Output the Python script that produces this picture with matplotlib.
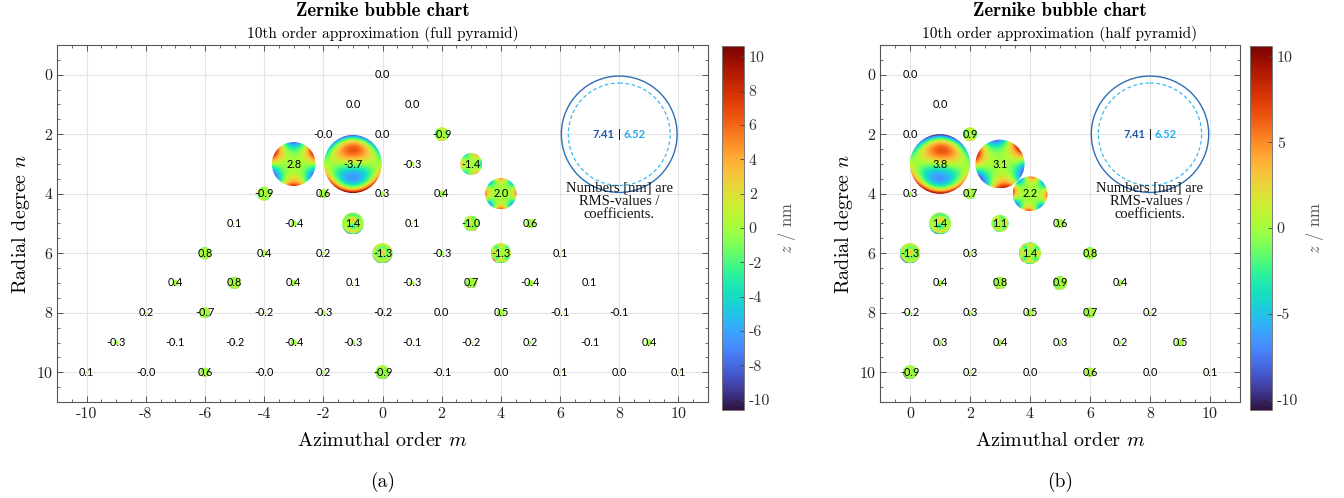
import numpy as np
import matplotlib.pyplot as plt
from matplotlib.patches import Circle
from matplotlib.cm import ScalarMappable
from matplotlib.colors import Normalize
from matplotlib.ticker import MultipleLocator
from math import factorial, sqrt

plt.rcParams['font.family'] = 'cmr10'
plt.rcParams['mathtext.fontset'] = 'cm'
plt.rcParams['axes.unicode_minus'] = False

# full pyramid: one list per radial degree n, for m = -n, -n+2, ..., n  (nm)
full_n0 = [0.0]
full_n1 = [0.0, 0.0]
full_n2 = [-0.0, 0.0, -0.9]
full_n3 = [2.8, -3.7, -0.3, -1.4]
full_n4 = [-0.9, 0.6, 0.3, 0.4, 2.0]
full_n5 = [0.1, -0.4, 1.4, 0.1, -1.0, 0.6]
full_n6 = [0.8, 0.4, 0.2, -1.3, -0.3, -1.3, 0.1]
full_n7 = [0.4, 0.8, 0.4, 0.1, -0.3, 0.7, -0.4, 0.1]
full_n8 = [0.2, -0.7, -0.2, -0.3, -0.2, 0.0, 0.5, -0.1, -0.1]
full_n9 = [-0.3, -0.1, -0.2, -0.4, -0.3, -0.1, -0.2, 0.2, -0.1, 0.4]
full_n10 = [0.1, -0.0, 0.6, -0.0, 0.2, -0.9, -0.1, 0.0, 0.1, 0.0, 0.1]

# half pyramid: one list per n, for m = n%2, ..., n (combined +m/-m amplitude)
half_n0 = [0.0]
half_n1 = [0.0]
half_n2 = [0.0, 0.9]
half_n3 = [3.8, 3.1]
half_n4 = [0.3, 0.7, 2.2]
half_n5 = [1.4, 1.1, 0.6]
half_n6 = [-1.3, 0.3, 1.4, 0.8]
half_n7 = [0.4, 0.8, 0.9, 0.4]
half_n8 = [-0.2, 0.3, 0.5, 0.7, 0.2]
half_n9 = [0.3, 0.4, 0.3, 0.2, 0.5]
half_n10 = [-0.9, 0.2, 0.0, 0.6, 0.0, 0.1]

full_rows = [full_n0, full_n1, full_n2, full_n3, full_n4, full_n5,
             full_n6, full_n7, full_n8, full_n9, full_n10]
half_rows = [half_n0, half_n1, half_n2, half_n3, half_n4, half_n5,
             half_n6, half_n7, half_n8, half_n9, half_n10]

rms_total = 7.41
rms_fit = 6.52

bubble_scale = 0.264   # bubble radius in axis units per nm
zlim = 10.6
res = 120


def zernike(n, m, rho, theta):
    am = abs(m)
    R = np.zeros_like(rho)
    for k in range((n - am) // 2 + 1):
        c = (-1) ** k * factorial(n - k) / (factorial(k) * factorial((n + am) // 2 - k)
                                           * factorial((n - am) // 2 - k))
        R += c * rho ** (n - 2 * k)
    if m == 0:
        return sqrt(n + 1) * R
    if m > 0:
        return sqrt(2 * (n + 1)) * R * np.cos(m * theta)
    return sqrt(2 * (n + 1)) * R * np.sin(am * theta)


def full_coef(n, m):
    return full_rows[n][(m + n) // 2]


def draw_bubble(ax, m0, n0, size, terms):
    r = abs(size) * bubble_scale
    if r <= 0:
        return
    t = np.linspace(-1, 1, res)
    X, Y = np.meshgrid(t, t[::-1])
    rho = np.hypot(X, Y)
    theta = np.arctan2(Y, X)
    Z = np.zeros_like(rho)
    for (n, m, c) in terms:
        Z += c * zernike(n, m, rho, theta)
    im = ax.imshow(Z, cmap='turbo', vmin=-zlim, vmax=zlim, origin='upper',
                   extent=(m0 - r, m0 + r, n0 + r, n0 - r),
                   interpolation='bilinear', zorder=2, aspect='auto')
    im.set_clip_path(Circle((m0, n0), r, transform=ax.transData))


def label(ax, m0, n0, v):
    ax.text(m0, n0, f"{v:.1f}", ha='center', va='center', fontsize=7.8,
            family='Lato', color='black', zorder=4)


def style_axes(ax, xlim):
    ax.set_xlim(*xlim)
    ax.set_ylim(11, -1)
    ax.xaxis.set_major_locator(MultipleLocator(2))
    ax.xaxis.set_minor_locator(MultipleLocator(0.5))
    ax.yaxis.set_major_locator(MultipleLocator(2))
    ax.yaxis.set_minor_locator(MultipleLocator(0.5))
    ax.tick_params(which='both', direction='in', top=True, right=True,
                   color='#555555', labelsize=11.5, labelcolor='#222222')
    ax.tick_params(which='major', length=4, width=0.7)
    ax.tick_params(which='minor', length=2.5, width=0.6)
    for s in ax.spines.values():
        s.set_color('#555555')
        s.set_linewidth(0.8)
    ax.grid(True, which='major', color='#e4e4e4', linewidth=0.8, zorder=0)
    ax.set_axisbelow(True)
    ax.set_xlabel('Azimuthal order $m$', fontsize=14.5, labelpad=8)
    ax.set_ylabel('Radial degree $n$', fontsize=14.5, labelpad=3)


def legend_circle(ax, x0, y0):
    ax.add_patch(Circle((x0, y0), rms_total * bubble_scale, fill=False,
                        ec='#2f6db3', lw=1.0, zorder=3))
    ax.add_patch(Circle((x0, y0), rms_fit * bubble_scale, fill=False,
                        ec='#3cbaf0', lw=0.9, ls=(0, (3, 2)), zorder=3))
    ax.text(x0, y0, '|', ha='center', va='center', fontsize=8.5,
            family='Lato', color='black', zorder=4)
    ax.annotate(f"{rms_total:.2f}", (x0, y0), xytext=(-3.2, 0),
                textcoords='offset points', ha='right', va='center',
                fontsize=8, family='Lato', weight='bold', color='#1f5aa6', zorder=4)
    ax.annotate(f"{rms_fit:.2f}", (x0, y0), xytext=(3.2, 0),
                textcoords='offset points', ha='left', va='center',
                fontsize=8, family='Lato', weight='bold', color='#22aef0', zorder=4)
    ax.text(x0, 4.25, 'Numbers [nm] are\nRMS-values /\ncoefficients.',
            ha='center', va='center', fontsize=10.5, family='Liberation Serif',
            linespacing=1.0, color='#111111', zorder=4)


def add_colorbar(fig, rect, step):
    cax = fig.add_axes(rect)
    sm = ScalarMappable(norm=Normalize(-zlim, zlim), cmap='turbo')
    cb = fig.colorbar(sm, cax=cax)
    cb.set_ticks(np.arange(-10, 11, step))
    cb.outline.set_edgecolor('#777777')
    cb.outline.set_linewidth(0.7)
    cax.tick_params(direction='in', length=3, width=0.6, color='#444444',
                    labelsize=11.5, labelcolor='#333333')
    cb.set_label('$z$ / nm', fontsize=12, color='#555555', labelpad=4)


fig = plt.figure(figsize=(13.44, 4.98), dpi=100)

ax_bottom = 96 / 498
ax_h = 357 / 498
ax1 = fig.add_axes([57 / 1344, ax_bottom, 651 / 1344, ax_h])
ax2 = fig.add_axes([880 / 1344, ax_bottom, 360 / 1344, ax_h])

# (a) full pyramid
for n, row in enumerate(full_rows):
    for i, v in enumerate(row):
        m = -n + 2 * i
        draw_bubble(ax1, m, n, v, [(n, m, v)])
        label(ax1, m, n, v)
legend_circle(ax1, 8, 2)
style_axes(ax1, (-11, 11))

# (b) half pyramid
for n, row in enumerate(half_rows):
    for i, v in enumerate(row):
        m = n % 2 + 2 * i
        if m == 0:
            terms = [(n, 0, full_coef(n, 0))]
        else:
            terms = [(n, m, full_coef(n, m)), (n, -m, full_coef(n, -m))]
        draw_bubble(ax2, m, n, v, terms)
        label(ax2, m, n, v)
legend_circle(ax2, 8, 2)
style_axes(ax2, (-1, 11))

add_colorbar(fig, [722 / 1344, 88 / 498, 22 / 1344, 364 / 498], 2)
add_colorbar(fig, [1250 / 1344, 88 / 498, 22 / 1344, 364 / 498], 5)

for xc, sub, cap in [(383 / 1344, '10th order approximation (full pyramid)', '(a)'),
                     (1060 / 1344, '10th order approximation (half pyramid)', '(b)')]:
    fig.text(xc, 1 - 11 / 498, 'Zernike bubble chart', ha='center', va='center',
             fontsize=13.5, family='cmb10')
    fig.text(xc, 1 - 34 / 498, sub, ha='center', va='center', fontsize=11)
    fig.text(xc, 1 - 482 / 498, cap, ha='center', va='center', fontsize=14)

fig.savefig('out.png', dpi=100)
